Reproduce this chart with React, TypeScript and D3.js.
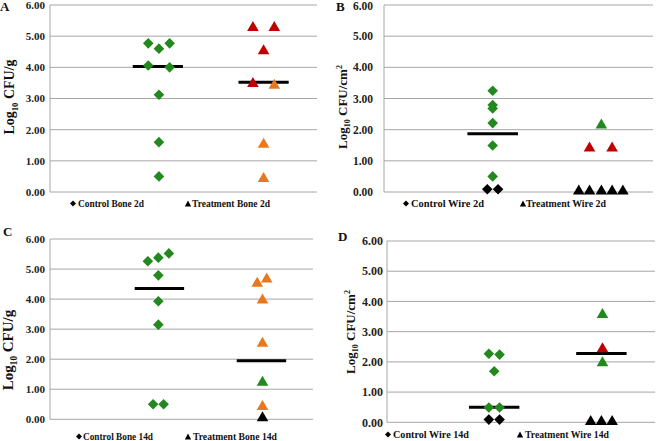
import React from "react";
import * as d3 from "d3";

// ---------- DATA ----------
const yTicks = [0, 1, 2, 3, 4, 5, 6];

// Panel A: Bone 2d
const aCtrlX = [0.92, 1.02, 1.12, 0.92, 1.12, 1.02, 1.02, 1.02];
const aCtrlY = [4.77, 4.6, 4.77, 4.06, 4.0, 3.12, 1.6, 0.5];
const aCtrlC = ["g", "g", "g", "g", "g", "g", "g", "g"];
const aTrtX = [1.9, 2.1, 2.0, 1.9, 2.1, 2.0, 2.0];
const aTrtY = [5.33, 5.33, 4.58, 3.53, 3.47, 1.58, 0.48];
const aTrtC = ["r", "r", "r", "r", "o", "o", "o"];
const aMedX = [1.01, 2.0];
const aMedY = [4.03, 3.52];

// Panel B: Wire 2d
const bCtrlX = [1.01, 1.01, 1.01, 1.01, 1.01, 1.01, 0.96, 1.06];
const bCtrlY = [3.25, 2.79, 2.68, 2.21, 1.49, 0.5, 0.09, 0.09];
const bCtrlC = ["g", "g", "g", "g", "g", "g", "k", "k"];
const bTrtX = [2.02, 1.91, 2.12, 1.81, 1.91, 2.02, 2.12, 2.22];
const bTrtY = [2.2, 1.46, 1.46, 0.08, 0.08, 0.08, 0.08, 0.08];
const bTrtC = ["g", "r", "r", "k", "k", "k", "k", "k"];
const bMedX = [1.01];
const bMedY = [1.87];

// Panel C: Bone 14d
const cCtrlX = [0.93, 1.03, 1.13, 1.03, 1.03, 1.03, 0.98, 1.08];
const cCtrlY = [5.26, 5.38, 5.52, 4.79, 3.93, 3.15, 0.5, 0.5];
const cCtrlC = ["g", "g", "g", "g", "g", "g", "g", "g"];
const cTrtX = [1.97, 2.06, 2.02, 2.02, 2.02, 2.02, 2.02];
const cTrtY = [4.58, 4.72, 4.02, 2.58, 1.28, 0.48, 0.1];
const cTrtC = ["o", "o", "o", "o", "g", "o", "k"];
const cMedX = [1.04, 2.01];
const cMedY = [4.35, 1.95];

// Panel D: Wire 14d
const dCtrlX = [0.95, 1.05, 1.0, 0.95, 1.05, 0.95, 1.05];
const dCtrlY = [2.27, 2.24, 1.69, 0.49, 0.49, 0.09, 0.09];
const dCtrlC = ["g", "g", "g", "g", "g", "k", "k"];
const dTrtX = [2.01, 2.01, 2.01, 1.9, 2.0, 2.1];
const dTrtY = [3.62, 2.48, 2.02, 0.08, 0.08, 0.08];
const dTrtC = ["g", "r", "g", "k", "k", "k"];
const dMedX = [1.0, 2.0];
const dMedY = [0.5, 2.28];

const legendCtrl = ["Control Bone 2d", "Control Wire 2d", "Control Bone 14d", "Control Wire 14d"];
const legendTrt = ["Treatment Bone 2d", "Treatment Wire 2d", "Treatment Bone 14d", "Treatment Wire 14d"];
const letters = ["A", "B", "C", "D"];
const units = ["g", "cm", "g", "cm"];

// ---------- STYLE / LAYOUT ----------
const COLORS: Record<string, string> = {
  g: "#23891f",
  r: "#c00000",
  o: "#e8781e",
  k: "#000000",
};
const FONT = "'Liberation Serif', 'Times New Roman', serif";
const GRID = "#a6a6a6";
const X_DOMAIN = [0, 2.5];
const MED_HALF = 0.235;

const layouts = [
  { left: 50, right: 317, top: 5, bottom: 192, tickGap: 5, tickFont: 11, titleX: 14, titleY: 97, titleFont: 14, letterX: 0, letterY: 11, letterFont: 13,
    legY: 207, legFont: 10.5, lc: [73, 78, 66], lt: [188, 192, 78] },
  { left: 384, right: 653, top: 5, bottom: 192, tickGap: 11, tickFont: 11.5, titleX: 347, titleY: 107, titleFont: 13, letterX: 336, letterY: 11, letterFont: 13,
    legY: 207, legFont: 10.5, lc: [406, 411, 73], lt: [523, 526, 80] },
  { left: 50, right: 313, top: 239, bottom: 419.3, tickGap: 5, tickFont: 11, titleX: 13, titleY: 350, titleFont: 15, letterX: 3, letterY: 236, letterFont: 13,
    legY: 440, legFont: 10.5, lc: [79, 83, 70], lt: [188, 193, 84] },
  { left: 387, right: 655, top: 241, bottom: 422.3, tickGap: 4, tickFont: 12, titleX: 355, titleY: 332, titleFont: 13, letterX: 338, letterY: 241, letterFont: 13,
    legY: 438, legFont: 10.5, lc: [388, 393, 76], lt: [520, 525, 84] },
];

const panelData = [
  { cx: aCtrlX, cy: aCtrlY, cc: aCtrlC, tx: aTrtX, ty: aTrtY, tc: aTrtC, mx: aMedX, my: aMedY },
  { cx: bCtrlX, cy: bCtrlY, cc: bCtrlC, tx: bTrtX, ty: bTrtY, tc: bTrtC, mx: bMedX, my: bMedY },
  { cx: cCtrlX, cy: cCtrlY, cc: cCtrlC, tx: cTrtX, ty: cTrtY, tc: cTrtC, mx: cMedX, my: cMedY },
  { cx: dCtrlX, cy: dCtrlY, cc: dCtrlC, tx: dTrtX, ty: dTrtY, tc: dTrtC, mx: dMedX, my: dMedY },
];

const diamond = (x: number, y: number, r: number) =>
  `M${x},${y - r}L${x + r},${y}L${x},${y + r}L${x - r},${y}Z`;
const triangle = (x: number, y: number, w: number, h: number) =>
  `M${x},${y - h / 2}L${x + w},${y + h / 2}L${x - w},${y + h / 2}Z`;

const fmt = d3.format(".2f");

function Panel({ i }: { i: number }) {
  const L = layouts[i];
  const D = panelData[i];
  const x = d3.scaleLinear().domain(X_DOMAIN).range([L.left, L.right]);
  const y = d3.scaleLinear().domain([0, 6]).range([L.bottom, L.top]);
  const unit = units[i];
  return (
    <g>
      {yTicks.map((t) => (
        <line key={"g" + t} x1={L.left} x2={L.right} y1={y(t)} y2={y(t)} stroke={GRID} strokeWidth={1} />
      ))}
      <line x1={L.left} x2={L.left} y1={y(6)} y2={y(0)} stroke={GRID} strokeWidth={1} />
      {yTicks.map((t) => (
        <text key={"t" + t} x={L.left - L.tickGap} y={Math.max(y(t), 5.5)} dy="0.35em" textAnchor="end"
          fontFamily={FONT} fontWeight="bold" fontSize={L.tickFont} fill="#222">
          {fmt(t)}
        </text>
      ))}
      <text transform={`translate(${L.titleX},${L.titleY}) rotate(-90)`} textAnchor="middle"
        fontFamily={FONT} fontWeight="bold" fontSize={L.titleFont} fill="#111">
        Log<tspan fontSize={L.titleFont * 0.62} dy={L.titleFont * 0.25}>10</tspan>
        <tspan dy={-L.titleFont * 0.25}> CFU/{unit}</tspan>
        {unit === "cm" ? <tspan fontSize={L.titleFont * 0.62} dy={-L.titleFont * 0.4}>2</tspan> : null}
      </text>
      <text x={L.letterX} y={L.letterY} fontFamily={FONT} fontWeight="bold" fontSize={L.letterFont} fill="#111">
        {letters[i]}
      </text>
      {D.mx.map((m, k) => (
        <line key={"m" + k} x1={x(m - MED_HALF)} x2={x(m + MED_HALF)} y1={y(D.my[k])} y2={y(D.my[k])}
          stroke="#000" strokeWidth={3} />
      ))}
      {D.cx.map((v, k) => (
        <path key={"c" + k} d={diamond(x(v), y(D.cy[k]), 5.3)} fill={COLORS[D.cc[k]]} />
      ))}
      {D.tx.map((v, k) => (
        <path key={"tr" + k} d={triangle(x(v), y(D.ty[k]), 5.8, 10)} fill={COLORS[D.tc[k]]} />
      ))}
      <path d={diamond(L.lc[0], L.legY - 3.5, 3)} fill="#000" />
      <text x={L.lc[1]} y={L.legY} fontFamily={FONT} fontWeight="bold" fontSize={L.legFont} fill="#111"
        textLength={L.lc[2]} lengthAdjust="spacingAndGlyphs">
        {legendCtrl[i]}
      </text>
      <path d={triangle(L.lt[0], L.legY - 3.5, 3.2, 6)} fill="#000" />
      <text x={L.lt[1]} y={L.legY} fontFamily={FONT} fontWeight="bold" fontSize={L.legFont} fill="#111"
        textLength={L.lt[2]} lengthAdjust="spacingAndGlyphs">
        {legendTrt[i]}
      </text>
    </g>
  );
}

export default function App() {
  return (
    <svg width={656} height={441} viewBox="0 0 656 441"
      style={{ position: "absolute", left: 0, top: 0, background: "#fff" }}>
      <rect width={656} height={441} fill="#fff" />
      {[0, 1, 2, 3].map((i) => (
        <Panel key={i} i={i} />
      ))}
    </svg>
  );
}
